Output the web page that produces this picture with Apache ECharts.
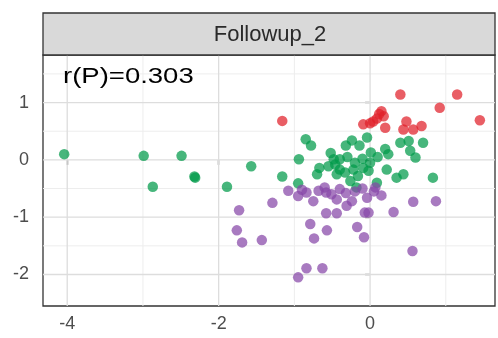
<!DOCTYPE html>
<html>
<head>
<meta charset="utf-8">
<script src="https://cdn.jsdelivr.net/npm/echarts@6/dist/echarts.min.js"></script>
<style>html,body{margin:0;padding:0;background:#fff}#c{width:498px;height:338px}</style>
</head>
<body>
<div id="c"></div>
<script>
const panelTitle = 'Followup_2';
const annotation = 'r(P)=0.303';
const xRange = [-4.32, 1.65];
const yRange = [-2.55, 1.83];
const xTicks = [-4, -2, 0];
const yTicks = [-2, -1, 0, 1];
const xMinor = [-3, -1, 1];
const yMinor = [-1.5, -0.5, 0.5, 1.5];

const redX = [-1.16, 0.40, 1.15, 0.92, 1.45, 0.15, 0.18, 0.09, -0.09, 0.00, 0.04, 0.20, 0.48, 0.44, 0.57, 0.68, 0.12];
const redY = [0.68, 1.14, 1.14, 0.91, 0.69, 0.85, 0.76, 0.72, 0.62, 0.64, 0.67, 0.56, 0.67, 0.53, 0.53, 0.59, 0.80];

const greenX = [-4.04, -2.99, -2.87, -2.49, -2.32, -2.31, -1.89, -1.57, -1.16, -0.95, -0.94, -0.85, -0.78, -0.52, -0.32, -0.24, -0.14, -0.04, 0.01, 0.20, 0.24, 0.40, 0.51, 0.70, 0.53, 0.60, 0.83, 0.44, 0.35, 0.22, -0.67, -0.70, -0.55, -0.46, -0.40, -0.44, -0.33, -0.22, -0.16, -0.09, -0.02, -0.26, -0.18, -0.40, -0.48, 0.00, 0.09, -0.30, -0.20, -0.10, 0.10];
const greenY = [0.10, 0.07, -0.47, 0.07, -0.29, -0.31, -0.47, -0.11, -0.29, -0.41, 0.01, 0.36, 0.25, 0.12, 0.25, 0.34, 0.25, 0.39, 0.13, 0.19, 0.10, 0.30, 0.33, 0.30, 0.16, 0.04, -0.31, -0.25, -0.31, -0.17, -0.14, -0.25, -0.11, -0.08, -0.17, -0.25, -0.22, -0.17, -0.28, -0.14, -0.19, -0.37, -0.48, 0.01, 0.01, -0.05, -0.40, 0.05, -0.05, 0.02, 0.05];

const purpleX = [-1.73, -1.29, -1.76, -1.69, -1.43, -1.08, -0.95, -0.84, -0.75, -0.68, -0.58, -0.51, -0.44, -0.40, -0.31, -0.24, -0.04, 0.07, 0.05, 0.31, 0.57, 0.87, -0.58, -0.44, -0.07, -0.02, -0.79, -0.74, -0.57, -0.17, -0.08, 0.56, -0.84, -0.63, -0.95, -0.90, -0.20, -0.10, -0.60, -0.32, 0.15];
const purpleY = [-0.88, -0.75, -1.23, -1.44, -1.40, -0.54, -0.63, -0.57, -0.72, -0.54, -0.57, -0.60, -0.69, -0.51, -0.80, -0.72, -0.66, -0.48, -0.55, -0.91, -0.73, -0.72, -0.93, -0.93, -0.92, -0.92, -1.12, -1.37, -1.23, -1.17, -1.35, -1.59, -1.89, -1.89, -2.05, -0.52, -0.55, -0.50, -0.48, -0.58, -0.62];

function pts(xs, ys) { return xs.map((x, i) => [x, ys[i]]); }

const chart = echarts.init(document.getElementById('c'), null, {renderer: 'canvas'});
const font = 'Liberation Sans, Arial, Helvetica, sans-serif';

// grid lines drawn as custom series through the axis scales
function gridLineSeries(values, vertical, color, width) {
  return {
    type: 'custom', silent: true, z: 1, animation: false,
    data: values.map(v => [v]),
    renderItem: function (params, api) {
      const v = api.value(0);
      let p1, p2;
      if (vertical) { p1 = api.coord([v, yRange[0]]); p2 = api.coord([v, yRange[1]]); }
      else { p1 = api.coord([xRange[0], v]); p2 = api.coord([xRange[1], v]); }
      return {type: 'line', shape: {x1: p1[0], y1: p1[1], x2: p2[0], y2: p2[1]}, style: {stroke: color, lineWidth: width}};
    }
  };
}

const pointStyle = (c) => ({type: 'scatter', symbolSize: 10.5, z: 3, itemStyle: {color: c, opacity: 0.72}, emphasis: {disabled: true}, animation: false});

chart.setOption({
  animation: false,
  grid: {left: 43, right: 3, top: 55, bottom: 32, show: true, borderColor: '#333333', borderWidth: 1.3, backgroundColor: '#ffffff'},
  xAxis: {
    type: 'value', min: xRange[0], max: xRange[1],
    axisLine: {show: false},
    splitLine: {show: false},
    axisTick: {show: true, customValues: xTicks, length: 5, lineStyle: {color: '#333333', width: 1.3}},
    axisLabel: {customValues: xTicks, color: '#4D4D4D', fontSize: 18, fontFamily: font, margin: 9}
  },
  yAxis: {
    type: 'value', min: yRange[0], max: yRange[1],
    axisLine: {show: false},
    splitLine: {show: false},
    axisTick: {show: true, customValues: yTicks, length: 5, lineStyle: {color: '#333333', width: 1.3}},
    axisLabel: {customValues: yTicks, color: '#4D4D4D', fontSize: 18, fontFamily: font, margin: 14}
  },
  graphic: [
    {type: 'rect', shape: {x: 43, y: 13, width: 452, height: 42}, style: {fill: '#D9D9D9', stroke: '#333333', lineWidth: 1.3}, z: 10},
    {type: 'text', x: 270, y: 35, style: {text: panelTitle, font: '22px ' + font, fill: '#2A2A2A', textAlign: 'center', textVerticalAlign: 'middle'}, z: 11},
    {type: 'text', x: 63, y: 77, scaleX: 1.25, style: {text: annotation, font: '22px ' + font, fill: '#000000', textAlign: 'left', textVerticalAlign: 'middle'}, z: 11}
  ],
  series: [
    gridLineSeries(xMinor, true, '#EDEDED', 1),
    gridLineSeries(yMinor, false, '#EDEDED', 1),
    gridLineSeries(xTicks, true, '#DDDDDD', 1.3),
    gridLineSeries(yTicks, false, '#DDDDDD', 1.3),
    Object.assign(pointStyle('#E0202A'), {name: 'high', data: pts(redX, redY)}),
    Object.assign(pointStyle('#009A4A'), {name: 'mid', data: pts(greenX, greenY)}),
    Object.assign(pointStyle('#8646A8'), {name: 'low', data: pts(purpleX, purpleY)})
  ]
});
</script>
</body>
</html>
